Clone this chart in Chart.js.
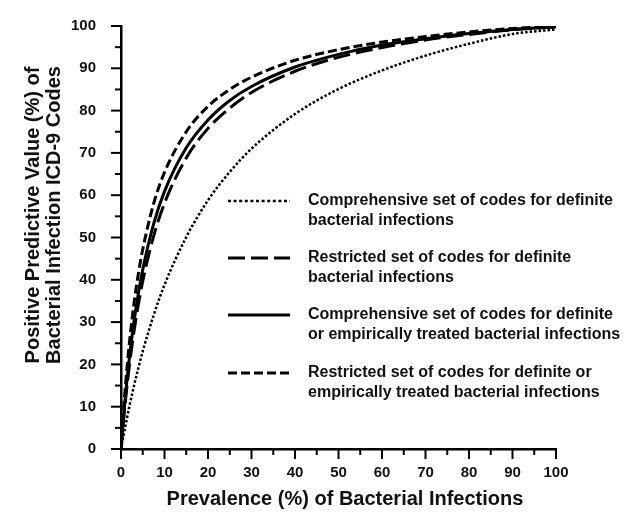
<!DOCTYPE html>
<html>
<head>
<meta charset="utf-8">
<script src="https://cdn.jsdelivr.net/npm/chart.js@4"></script>
<style>
  body { margin: 0; background: #fff; }
  #wrap { width: 629px; height: 520px; position: relative; }
</style>
</head>
<body>
<div id="wrap"><canvas id="ppvChart"></canvas></div>
<script>
// Values
const prevalence = [0, 0.5, 1, 2, 3, 4, 5, 7.5, 10, 15, 20, 25, 30, 40, 50, 60, 70, 80, 90, 100];
const ppvCompDefinite = [0, 2.8, 5.4, 10.4, 15.0, 19.2, 23.1, 31.6, 38.8, 50.1, 58.8, 65.5, 71.0, 79.2, 85.1, 89.5, 93.0, 95.8, 98.1, 99.2];
const ppvRestrDefinite = [0, 5.9, 11.2, 20.3, 27.9, 34.2, 39.7, 50.3, 58.1, 68.8, 75.8, 80.6, 84.3, 89.3, 92.6, 94.9, 96.7, 98.0, 99.1, 99.8];
const ppvCompEmpiric = [0, 6.6, 12.4, 22.2, 30.2, 36.8, 42.4, 53.2, 60.9, 71.2, 77.8, 82.4, 85.7, 90.3, 93.3, 95.5, 97.0, 98.2, 99.2, 99.8];
const ppvRestrEmpiric = [0, 7.9, 14.7, 25.8, 34.5, 41.5, 47.2, 58.0, 65.4, 75.0, 81.0, 85.0, 87.9, 91.9, 94.4, 96.2, 97.5, 98.6, 99.4, 100];

const legendLabels = [
  ['Comprehensive set of codes for definite', 'bacterial infections'],
  ['Restricted set of codes for definite', 'bacterial infections'],
  ['Comprehensive set of codes for definite', 'or empirically treated bacterial infections'],
  ['Restricted set of codes for definite or', 'empirically treated bacterial infections']
];
const xTitle = 'Prevalence (%) of Bacterial Infections';
const yTitle = ['Positive Predictive Value (%) of', 'Bacterial Infection ICD-9 Codes'];

const FONT = '"Liberation Sans", Arial, Helvetica, sans-serif';

function pts(values) {
  return prevalence.map((p, i) => ({ x: p, y: values[i] }));
}

const series = [
  { values: ppvCompDefinite, dash: [2.5, 2], width: 2.5 },
  { values: ppvRestrDefinite, dash: [17, 6], width: 3 },
  { values: ppvCompEmpiric, dash: [], width: 3 },
  { values: ppvRestrEmpiric, dash: [9, 4], width: 3 }
];

// ticks, titles and the legend drawn by hand
const extras = {
  id: 'extras',
  afterDraw(chart) {
    const ctx = chart.ctx;
    const xs = chart.scales.x;
    const ys = chart.scales.y;
    ctx.save();
    ctx.strokeStyle = '#000';
    ctx.lineWidth = 2;
    for (let v = 0; v <= 100; v += 5) {
      const len = v % 10 === 0 ? 10 : 6;
      const px = xs.getPixelForValue(v);
      ctx.beginPath();
      ctx.moveTo(px, xs.top);
      ctx.lineTo(px, xs.top + len);
      ctx.stroke();
      const py = ys.getPixelForValue(v);
      ctx.beginPath();
      ctx.moveTo(ys.right, py);
      ctx.lineTo(ys.right - len, py);
      ctx.stroke();
    }

    // axis titles
    ctx.fillStyle = '#111';
    ctx.font = 'bold 20px ' + FONT;
    ctx.textAlign = 'center';
    ctx.textBaseline = 'middle';
    ctx.fillText(xTitle, 345, 499);

    ctx.save();
    ctx.translate(33, 215);
    ctx.rotate(-Math.PI / 2);
    ctx.fillText(yTitle[0], 0, 0);
    ctx.fillText(yTitle[1], 0, 21);
    ctx.restore();

    // legend
    const legendY = [201, 258, 315, 373];
    ctx.font = 'bold 16px ' + FONT;
    ctx.textAlign = 'left';
    series.forEach((s, i) => {
      ctx.beginPath();
      ctx.setLineDash(i === 0 ? [3, 2.6] : s.dash);
      ctx.lineWidth = s.width;
      ctx.moveTo(228, legendY[i]);
      ctx.lineTo(290, legendY[i]);
      ctx.stroke();
      ctx.setLineDash([]);
      ctx.fillText(legendLabels[i][0], 308, legendY[i]);
      ctx.fillText(legendLabels[i][1], 308, legendY[i] + 20);
    });
    ctx.restore();
  }
};

new Chart(document.getElementById('ppvChart'), {
  type: 'line',
  data: {
    datasets: series.map((s, i) => ({
      label: legendLabels[i].join(' '),
      data: pts(s.values),
      borderColor: '#000',
      borderWidth: s.width,
      borderDash: s.dash,
      pointRadius: 0,
      fill: false,
      cubicInterpolationMode: 'monotone'
    }))
  },
  options: {
    responsive: true,
    maintainAspectRatio: false,
    animation: false,
    layout: { padding: { left: 0, right: 73, top: 19, bottom: 0 } },
    plugins: { legend: { display: false }, tooltip: { enabled: false } },
    scales: {
      x: {
        type: 'linear',
        min: 0,
        max: 100,
        grid: { display: false },
        border: { display: true, color: '#000', width: 2.5 },
        ticks: { stepSize: 10, padding: 7, color: '#111', font: { family: FONT, size: 15, weight: 'bold' } },
        afterFit(scale) { scale.height = 71; }
      },
      y: {
        min: 0,
        max: 100,
        grid: { display: false },
        border: { display: true, color: '#000', width: 2.5 },
        ticks: { stepSize: 10, padding: 17, color: '#111', font: { family: FONT, size: 15, weight: 'bold' } },
        afterFit(scale) { scale.width = 121; }
      }
    }
  },
  plugins: [extras]
});
</script>
</body>
</html>
